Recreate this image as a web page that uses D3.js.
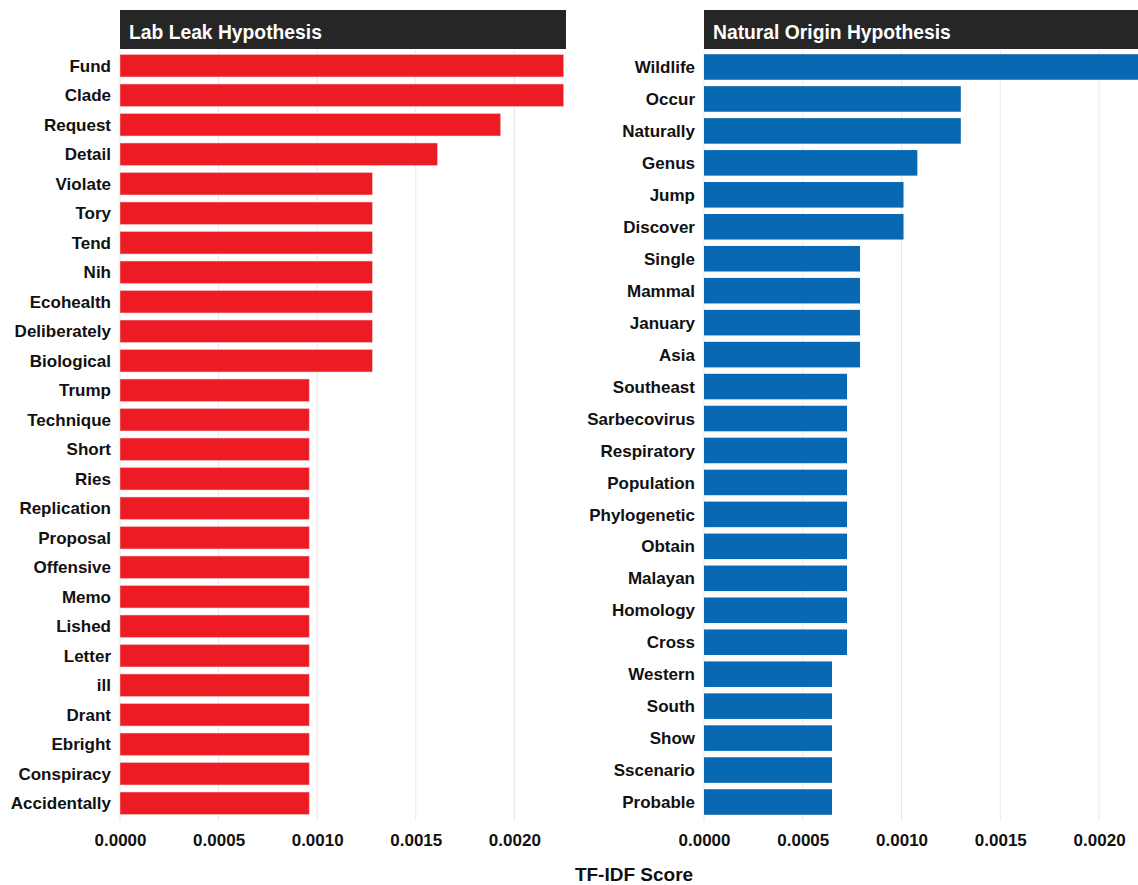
<!DOCTYPE html>
<html lang="en">
<head>
    <meta charset="UTF-8">
    <title>TF-IDF Score</title>
    <script src="https://d3js.org/d3.v7.min.js"></script>
    <style>
        body { margin: 0; background: #fff; }
        text { font-family: "Liberation Sans", Arial, sans-serif; font-weight: bold; }
    </style>
</head>
<body>
    <div id="chart"></div>
    <script>
        // Lab leak terms and scores
        const labTerms = ["Fund", "Clade", "Request", "Detail", "Violate", "Tory", "Tend", "Nih",
            "Ecohealth", "Deliberately", "Biological", "Trump", "Technique", "Short", "Ries",
            "Replication", "Proposal", "Offensive", "Memo", "Lished", "Letter", "ill", "Drant",
            "Ebright", "Conspiracy", "Accidentally"];
        const labScores = [0.00225, 0.00225, 0.00193, 0.00161, 0.00128, 0.00128, 0.00128, 0.00128,
            0.00128, 0.00128, 0.00128, 0.00096, 0.00096, 0.00096, 0.00096,
            0.00096, 0.00096, 0.00096, 0.00096, 0.00096, 0.00096, 0.00096, 0.00096,
            0.00096, 0.00096, 0.00096];

        // Natural origin terms and scores
        const natTerms = ["Wildlife", "Occur", "Naturally", "Genus", "Jump", "Discover", "Single",
            "Mammal", "January", "Asia", "Southeast", "Sarbecovirus", "Respiratory", "Population",
            "Phylogenetic", "Obtain", "Malayan", "Homology", "Cross", "Western", "South", "Show",
            "Sscenario", "Probable"];
        const natScores = [0.00225, 0.00130, 0.00130, 0.00108, 0.00101, 0.00101, 0.00079,
            0.00079, 0.00079, 0.00079, 0.000724, 0.000724, 0.000724, 0.000724,
            0.000724, 0.000724, 0.000724, 0.000724, 0.000724, 0.000648, 0.000648, 0.000648,
            0.000648, 0.000648];

        const tickValues = [0, 0.0005, 0.001, 0.0015, 0.002];

        const width = 1138, height = 885;
        const svg = d3.select("#chart").append("svg")
            .attr("width", width).attr("height", height);

        const panels = [
            { title: "Lab Leak Hypothesis", terms: labTerms, scores: labScores, color: "#ed1c24",
              x0: 120, x1: 566, max: 0.002262, pad: 0.24 },
            { title: "Natural Origin Hypothesis", terms: natTerms, scores: natScores, color: "#0868b2",
              x0: 704, x1: 1138, max: 0.002197, pad: 0.2 }
        ];

        const plotTop = 51, plotBottom = 818;

        panels.forEach((p, i) => {
            const x = d3.scaleLinear().domain([0, p.max]).range([p.x0, p.x1]);
            const y = d3.scaleBand().domain(p.terms).range([plotTop, plotBottom]).paddingInner(p.pad).paddingOuter(p.pad / 2);
            const g = svg.append("g");

            g.append("clipPath").attr("id", "clip" + i)
                .append("rect").attr("x", p.x0).attr("y", 0).attr("width", p.x1 - p.x0).attr("height", height);

            // grid
            g.selectAll("line.grid").data(tickValues).join("line")
                .attr("x1", d => x(d)).attr("x2", d => x(d))
                .attr("y1", plotTop).attr("y2", plotBottom + 3)
                .attr("stroke", "#e3e9ec").attr("stroke-width", 1);

            // bars
            g.append("g").attr("clip-path", `url(#clip${i})`)
                .selectAll("rect").data(p.terms).join("rect")
                .attr("x", x(0))
                .attr("y", d => y(d))
                .attr("width", (d, j) => x(p.scores[j]) - x(0))
                .attr("height", y.bandwidth())
                .attr("fill", p.color)
                .attr("stroke", "#f3c9c9")
                .attr("stroke-opacity", i === 0 ? 0.6 : 0)
                .attr("stroke-width", 0.8);

            // strip
            g.append("rect").attr("x", p.x0).attr("y", 10)
                .attr("width", p.x1 - p.x0).attr("height", 39)
                .attr("fill", "#262626");
            g.append("text").attr("x", p.x0 + 9).attr("y", 39)
                .attr("fill", "#fff").attr("font-size", 19.3)
                .text(p.title);

            // category labels
            g.append("g").selectAll("text").data(p.terms).join("text")
                .attr("x", p.x0 - 9)
                .attr("y", d => y(d) + y.bandwidth() / 2)
                .attr("dy", "0.36em")
                .attr("text-anchor", "end")
                .attr("font-size", 17)
                .attr("fill", "#111")
                .text(d => d);

            // x axis tick labels
            const ax = g.append("g").attr("transform", `translate(0,${plotBottom + 3})`)
                .call(d3.axisBottom(x).tickValues(tickValues).tickFormat(d3.format(".4f")).tickSize(0).tickPadding(13));
            ax.select(".domain").remove();
            ax.selectAll("text").attr("font-size", 17).attr("fill", "#111")
                .attr("font-family", "Liberation Sans, Arial, sans-serif").attr("font-weight", "bold");
        });

        svg.append("text").attr("x", 634).attr("y", 881)
            .attr("text-anchor", "middle").attr("font-size", 19).attr("fill", "#111")
            .text("TF-IDF Score");
    </script>
</body>
</html>
